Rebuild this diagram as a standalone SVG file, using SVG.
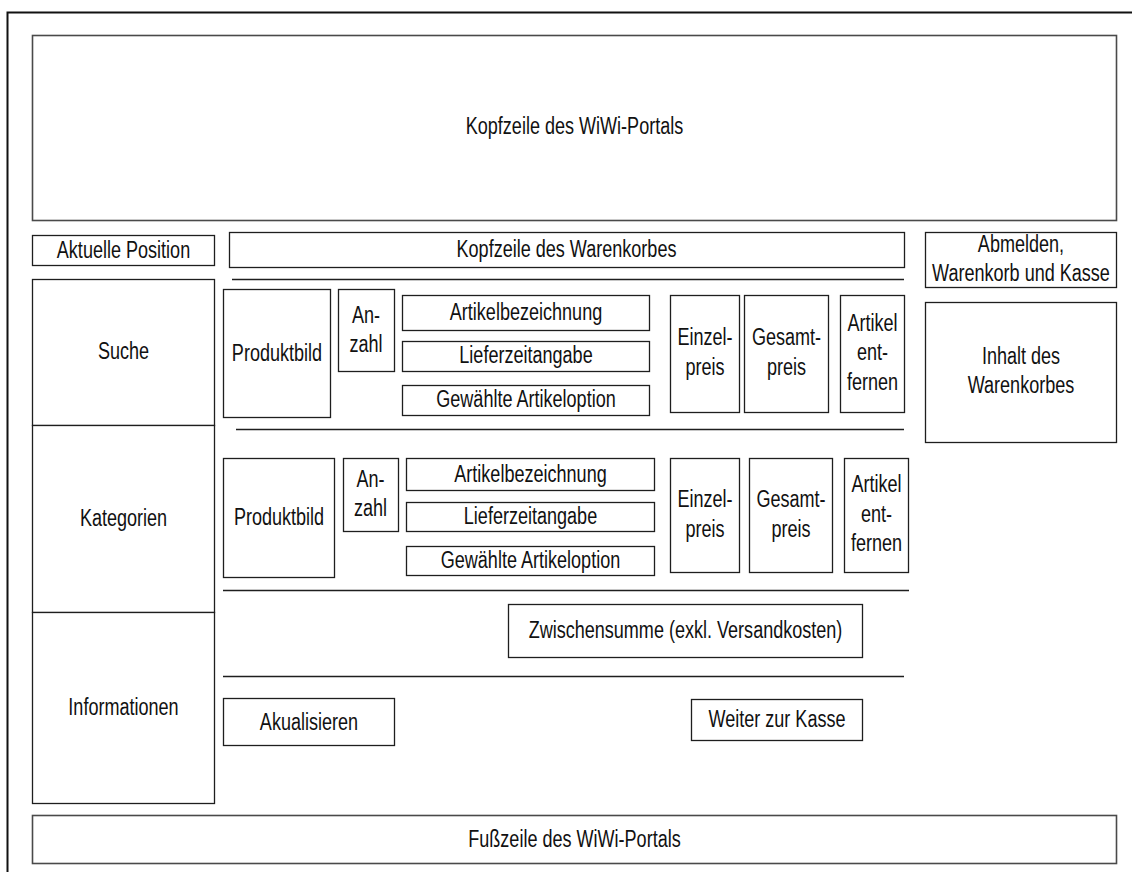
<svg xmlns="http://www.w3.org/2000/svg" width="1132" height="872" viewBox="0 0 1132 872">
  <style>
    .box { fill: #ffffff; stroke: #1e1e1e; stroke-width: 1.3; }
    .head { fill: #ffffff; stroke: #4a4a4a; stroke-width: 1.6; }
    .sep { stroke: #1e1e1e; stroke-width: 1.3; fill: none; }
    .frame { stroke: #111111; stroke-width: 2; fill: none; }
    .t { font-family: "Liberation Sans", Arial, sans-serif; font-size: 23.5px; fill: #111111; text-anchor: middle;
         transform-box: fill-box; transform-origin: center; transform: scaleX(0.768); }
  </style>

  <rect x="0" y="0" width="1132" height="872" fill="#ffffff"/>

  <!-- page frame -->
  <path class="frame" d="M7.5,872 V12.5 H1132"/>

  <!-- portal header -->
  <g id="portal-header">
    <rect class="head" x="32.5" y="35.5" width="1084" height="185"/>
    <text class="t" x="574.5" y="134">Kopfzeile des WiWi-Portals</text>
  </g>

  <!-- left navigation column -->
  <g id="current-position">
    <rect class="box" x="32.5" y="235.5" width="182" height="30"/>
    <text class="t" x="123.5" y="258">Aktuelle Position</text>
  </g>
  <g id="search">
    <rect class="box" x="32.5" y="279.5" width="182" height="146"/>
    <text class="t" x="123.5" y="359">Suche</text>
  </g>
  <g id="categories">
    <rect class="box" x="32.5" y="425.5" width="182" height="187"/>
    <text class="t" x="123.5" y="526">Kategorien</text>
  </g>
  <g id="information">
    <rect class="box" x="32.5" y="612.5" width="182" height="191"/>
    <text class="t" x="123.5" y="715">Informationen</text>
  </g>

  <!-- cart header -->
  <g id="cart-header">
    <rect class="box" x="229.5" y="232.5" width="675" height="35"/>
    <text class="t" x="566.5" y="257.5">Kopfzeile des Warenkorbes</text>
  </g>

  <!-- right column -->
  <g id="logout-cart-checkout">
    <rect class="box" x="925.5" y="232.5" width="191" height="55"/>
    <text class="t" y="252"><tspan x="1021">Abmelden,</tspan><tspan x="1021" y="281">Warenkorb und Kasse</tspan></text>
  </g>
  <g id="cart-content">
    <rect class="box" x="925.5" y="302.5" width="191" height="140"/>
    <text class="t" y="364"><tspan x="1021">Inhalt des</tspan><tspan x="1021" y="393">Warenkorbes</tspan></text>
  </g>

  <!-- cart item 1 -->
  <g id="item1-image">
    <rect class="box" x="223.5" y="289.5" width="107" height="128"/>
    <text class="t" x="277" y="361">Produktbild</text>
  </g>
  <g id="item1-quantity">
    <rect class="box" x="338.5" y="289.5" width="56" height="82"/>
    <text class="t" y="323"><tspan x="366">An-</tspan><tspan x="366" y="352">zahl</tspan></text>
  </g>
  <g id="item1-name">
    <rect class="box" x="402.5" y="295.5" width="247" height="35"/>
    <text class="t" x="526" y="320">Artikelbezeichnung</text>
  </g>
  <g id="item1-delivery">
    <rect class="box" x="402.5" y="341.5" width="247" height="30"/>
    <text class="t" x="526" y="363">Lieferzeitangabe</text>
  </g>
  <g id="item1-option">
    <rect class="box" x="402.5" y="385.5" width="247" height="30"/>
    <text class="t" x="526" y="407">Gewählte Artikeloption</text>
  </g>
  <g id="item1-unit-price">
    <rect class="box" x="670.5" y="295.5" width="69" height="117"/>
    <text class="t" y="345"><tspan x="705">Einzel-</tspan><tspan x="705" y="375">preis</tspan></text>
  </g>
  <g id="item1-total-price">
    <rect class="box" x="744.5" y="295.5" width="84" height="117"/>
    <text class="t" y="345"><tspan x="786.5">Gesamt-</tspan><tspan x="786.5" y="375">preis</tspan></text>
  </g>
  <g id="item1-remove">
    <rect class="box" x="840.5" y="295.5" width="64" height="117"/>
    <text class="t" y="331"><tspan x="872.5">Artikel</tspan><tspan x="872.5" y="360">ent-</tspan><tspan x="872.5" y="390">fernen</tspan></text>
  </g>

  <!-- cart item 2 -->
  <g id="item2-image">
    <rect class="box" x="223.5" y="458.5" width="111" height="119"/>
    <text class="t" x="279" y="525">Produktbild</text>
  </g>
  <g id="item2-quantity">
    <rect class="box" x="343.5" y="458.5" width="55" height="73"/>
    <text class="t" y="487"><tspan x="370.5">An-</tspan><tspan x="370.5" y="516">zahl</tspan></text>
  </g>
  <g id="item2-name">
    <rect class="box" x="406.5" y="458.5" width="248" height="32"/>
    <text class="t" x="530.5" y="482">Artikelbezeichnung</text>
  </g>
  <g id="item2-delivery">
    <rect class="box" x="406.5" y="502.5" width="248" height="29"/>
    <text class="t" x="530.5" y="524">Lieferzeitangabe</text>
  </g>
  <g id="item2-option">
    <rect class="box" x="406.5" y="546.5" width="248" height="29"/>
    <text class="t" x="530.5" y="568">Gewählte Artikeloption</text>
  </g>
  <g id="item2-unit-price">
    <rect class="box" x="670.5" y="458.5" width="69" height="114"/>
    <text class="t" y="507"><tspan x="705">Einzel-</tspan><tspan x="705" y="537">preis</tspan></text>
  </g>
  <g id="item2-total-price">
    <rect class="box" x="749.5" y="458.5" width="83" height="114"/>
    <text class="t" y="507"><tspan x="791">Gesamt-</tspan><tspan x="791" y="537">preis</tspan></text>
  </g>
  <g id="item2-remove">
    <rect class="box" x="844.5" y="458.5" width="64" height="114"/>
    <text class="t" y="492"><tspan x="876.5">Artikel</tspan><tspan x="876.5" y="522">ent-</tspan><tspan x="876.5" y="551">fernen</tspan></text>
  </g>

  <!-- totals and actions -->
  <g id="subtotal">
    <rect class="box" x="508.5" y="604.5" width="354" height="53"/>
    <text class="t" x="685.5" y="638">Zwischensumme (exkl. Versandkosten)</text>
  </g>
  <g id="update">
    <rect class="box" x="223.5" y="698.5" width="171" height="47"/>
    <text class="t" x="309" y="730">Akualisieren</text>
  </g>
  <g id="checkout">
    <rect class="box" x="691.5" y="699.5" width="171" height="41"/>
    <text class="t" x="777" y="727">Weiter zur Kasse</text>
  </g>

  <!-- portal footer -->
  <g id="portal-footer">
    <rect class="head" x="32.5" y="815.5" width="1084" height="48"/>
    <text class="t" x="574.5" y="847">Fußzeile des WiWi-Portals</text>
  </g>

  <!-- horizontal separators inside the cart -->
  <g id="connectors">
    <line class="sep" x1="232" y1="279.5" x2="904" y2="279.5"/>
    <line class="sep" x1="236" y1="429.5" x2="904" y2="429.5"/>
    <line class="sep" x1="223" y1="590.5" x2="909" y2="590.5"/>
    <line class="sep" x1="223" y1="676.5" x2="904" y2="676.5"/>
  </g>
</svg>
